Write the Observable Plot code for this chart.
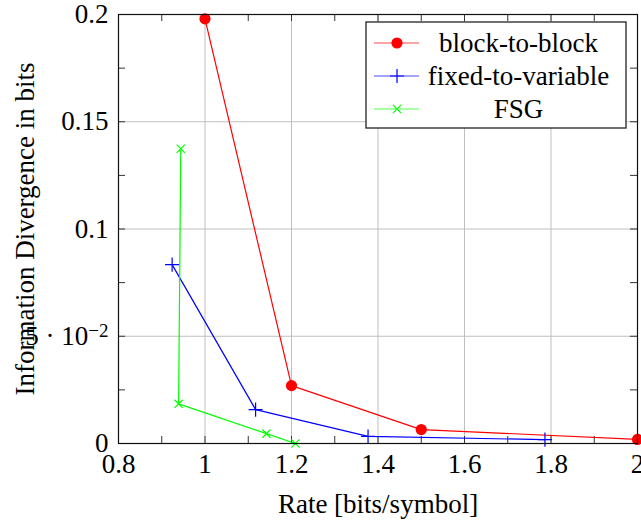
<!DOCTYPE html>
<html>
<head>
<meta charset="utf-8">
<script src="https://cdn.jsdelivr.net/npm/d3@7"></script>
<script src="https://cdn.jsdelivr.net/npm/@observablehq/plot@0.6"></script>
<style>
  html, body { margin: 0; padding: 0; background: white; }
  #chart svg { display: block; }
  #chart svg, #chart svg text { font-family: "Liberation Serif", "Times New Roman", serif !important; }
</style>
</head>
<body>
<div id="chart"></div>
<script>
// ---- data ----
const seriesNames = ["block-to-block", "fixed-to-variable", "FSG"];
const seriesColors = ["#ff0000", "#0000ff", "#00ff00"];

const blockRate = [1.0, 1.2, 1.5, 2.0];
const blockDiv  = [0.198, 0.027, 0.0065, 0.0019];

const fvRate = [0.924, 1.117, 1.377, 1.786];
const fvDiv  = [0.0834, 0.0158, 0.0033, 0.0018];

const fsgRate = [0.944, 0.939, 1.142, 1.209];
const fsgDiv  = [0.1374, 0.0185, 0.0046, 0.0];

const xMajor = [0.8, 1, 1.2, 1.4, 1.6, 1.8, 2];
const xTickLabels = ["0.8", "1", "1.2", "1.4", "1.6", "1.8", "2"];
const xMinor = [0.9, 1.1, 1.3, 1.5, 1.7, 1.9];
const yMajor = [0, 0.05, 0.1, 0.15, 0.2];
const yTickLabels = ["0", "5 · 10−2", "0.1", "0.15", "0.2"];
const yMinor = [0.025, 0.075, 0.125, 0.175];

const xLabel = "Rate [bits/symbol]";
const yLabel = "Information Divergence in bits";

// ---- layout ----
const W = 641, H = 522;
const mL = 118, mR = 4, mT = 14, mB = 79;
const pw = W - mL - mR, ph = H - mT - mB;
const tickLen = 7;
const FONT = "'Liberation Serif', 'Times New Roman', serif";
const FS = 27;

function rows(xs, ys, name) { return xs.map((x, i) => ({x, y: ys[i], name})); }
const blockData = rows(blockRate, blockDiv, seriesNames[0]);
const fvData = rows(fvRate, fvDiv, seriesNames[1]);
const fsgData = rows(fsgRate, fsgDiv, seriesNames[2]);

const xTicksAll = [...xMajor, ...xMinor];
const yTicksAll = [...yMajor, ...yMinor];
const tickColor = "#333";

const chart = Plot.plot({
  width: W, height: H,
  marginLeft: mL, marginRight: mR, marginTop: mT, marginBottom: mB,
  style: {fontFamily: FONT, fontSize: FS + "px", background: "white", overflow: "visible"},
  x: {domain: [0.8, 2]},
  y: {domain: [0, 0.2]},
  marks: [
    Plot.gridX(xMajor, {stroke: "#bfbfbf", strokeOpacity: 1, strokeWidth: 1}),
    Plot.gridY(yMajor, {stroke: "#bfbfbf", strokeOpacity: 1, strokeWidth: 1}),
    // inward ticks
    Plot.ruleX(xTicksAll, {insetTop: ph - tickLen, stroke: tickColor, strokeWidth: 1}),
    Plot.ruleX(xTicksAll, {insetBottom: ph - tickLen, stroke: tickColor, strokeWidth: 1}),
    Plot.ruleY(yTicksAll, {insetRight: pw - tickLen, stroke: tickColor, strokeWidth: 1}),
    Plot.ruleY(yTicksAll, {insetLeft: pw - tickLen, stroke: tickColor, strokeWidth: 1}),
    Plot.axisX(xMajor, {tickSize: 0, tickPadding: 10, fontSize: FS, label: null,
      tickFormat: d => xTickLabels[xMajor.indexOf(d)]}),
    Plot.axisY(yMajor, {tickSize: 0, tickPadding: 10, fontSize: FS, label: null,
      tickFormat: d => yTickLabels[yMajor.indexOf(d)]}),
    // series
    Plot.line(blockData, {x: "x", y: "y", stroke: seriesColors[0], strokeWidth: 1.2}),
    Plot.line(fvData, {x: "x", y: "y", stroke: seriesColors[1], strokeWidth: 1.2}),
    Plot.line(fsgData, {x: "x", y: "y", stroke: seriesColors[2], strokeWidth: 1.2}),
    Plot.dot(blockData, {x: "x", y: "y", r: 5.6, fill: seriesColors[0], stroke: "none"}),
    Plot.dot(fvData, {x: "x", y: "y", r: 4.6, symbol: "plus", stroke: seriesColors[1], strokeWidth: 1.2}),
    Plot.dot(fsgData, {x: "x", y: "y", r: 3.8, symbol: "times", stroke: seriesColors[2], strokeWidth: 1.2}),
    Plot.frame({stroke: "#111", strokeWidth: 1.2}),
    // axis labels
    Plot.text([xLabel], {text: d => d, frameAnchor: "bottom", dy: 69, lineAnchor: "bottom", textAnchor: "middle", fontSize: FS}),
    Plot.text([yLabel], {text: d => d, frameAnchor: "left", dx: -85, rotate: -90, lineAnchor: "bottom", textAnchor: "middle", fontSize: FS})
  ]
});

document.getElementById("chart").appendChild(chart);

// superscript for the 5·10^-2 tick label
const svg = d3.select(chart);
svg.selectAll("text").each(function() {
  const t = d3.select(this);
  if (this.textContent === yTickLabels[1]) {
    t.text(null);
    t.append("tspan").text("5 · 10");
    t.append("tspan").attr("dy", "-0.42em").attr("font-size", 19).text("−2");
  }
});

// legend
const lg = svg.append("g").attr("font-size", FS);
const lx = 366, ly = 22, lw = 260, lh = 106;
lg.append("rect").attr("x", lx).attr("y", ly).attr("width", lw).attr("height", lh)
  .attr("fill", "white").attr("stroke", "#111").attr("stroke-width", 1.2);
const symTypes = [d3.symbolCircle, d3.symbolPlus, d3.symbolTimes];
const symSizes = [Math.PI * 5.6 * 5.6, Math.PI * 4.6 * 4.6, Math.PI * 3.8 * 3.8];
seriesNames.forEach((name, i) => {
  const cy = ly + 21 + i * 33;
  lg.append("line").attr("x1", lx + 8).attr("x2", lx + 53).attr("y1", cy).attr("y2", cy)
    .attr("stroke", seriesColors[i]).attr("stroke-width", 1.2).attr("stroke-opacity", 0.7);
  const p = lg.append("path").attr("transform", `translate(${lx + 31},${cy})`)
    .attr("d", d3.symbol().type(symTypes[i]).size(symSizes[i])());
  if (i === 0) p.attr("fill", seriesColors[i]);
  else p.attr("fill", "none").attr("stroke", seriesColors[i]).attr("stroke-width", 1.2);
  lg.append("text").attr("x", lx + 152.5).attr("y", cy).attr("dy", "0.33em")
    .attr("text-anchor", "middle").text(name);
});
</script>
</body>
</html>
